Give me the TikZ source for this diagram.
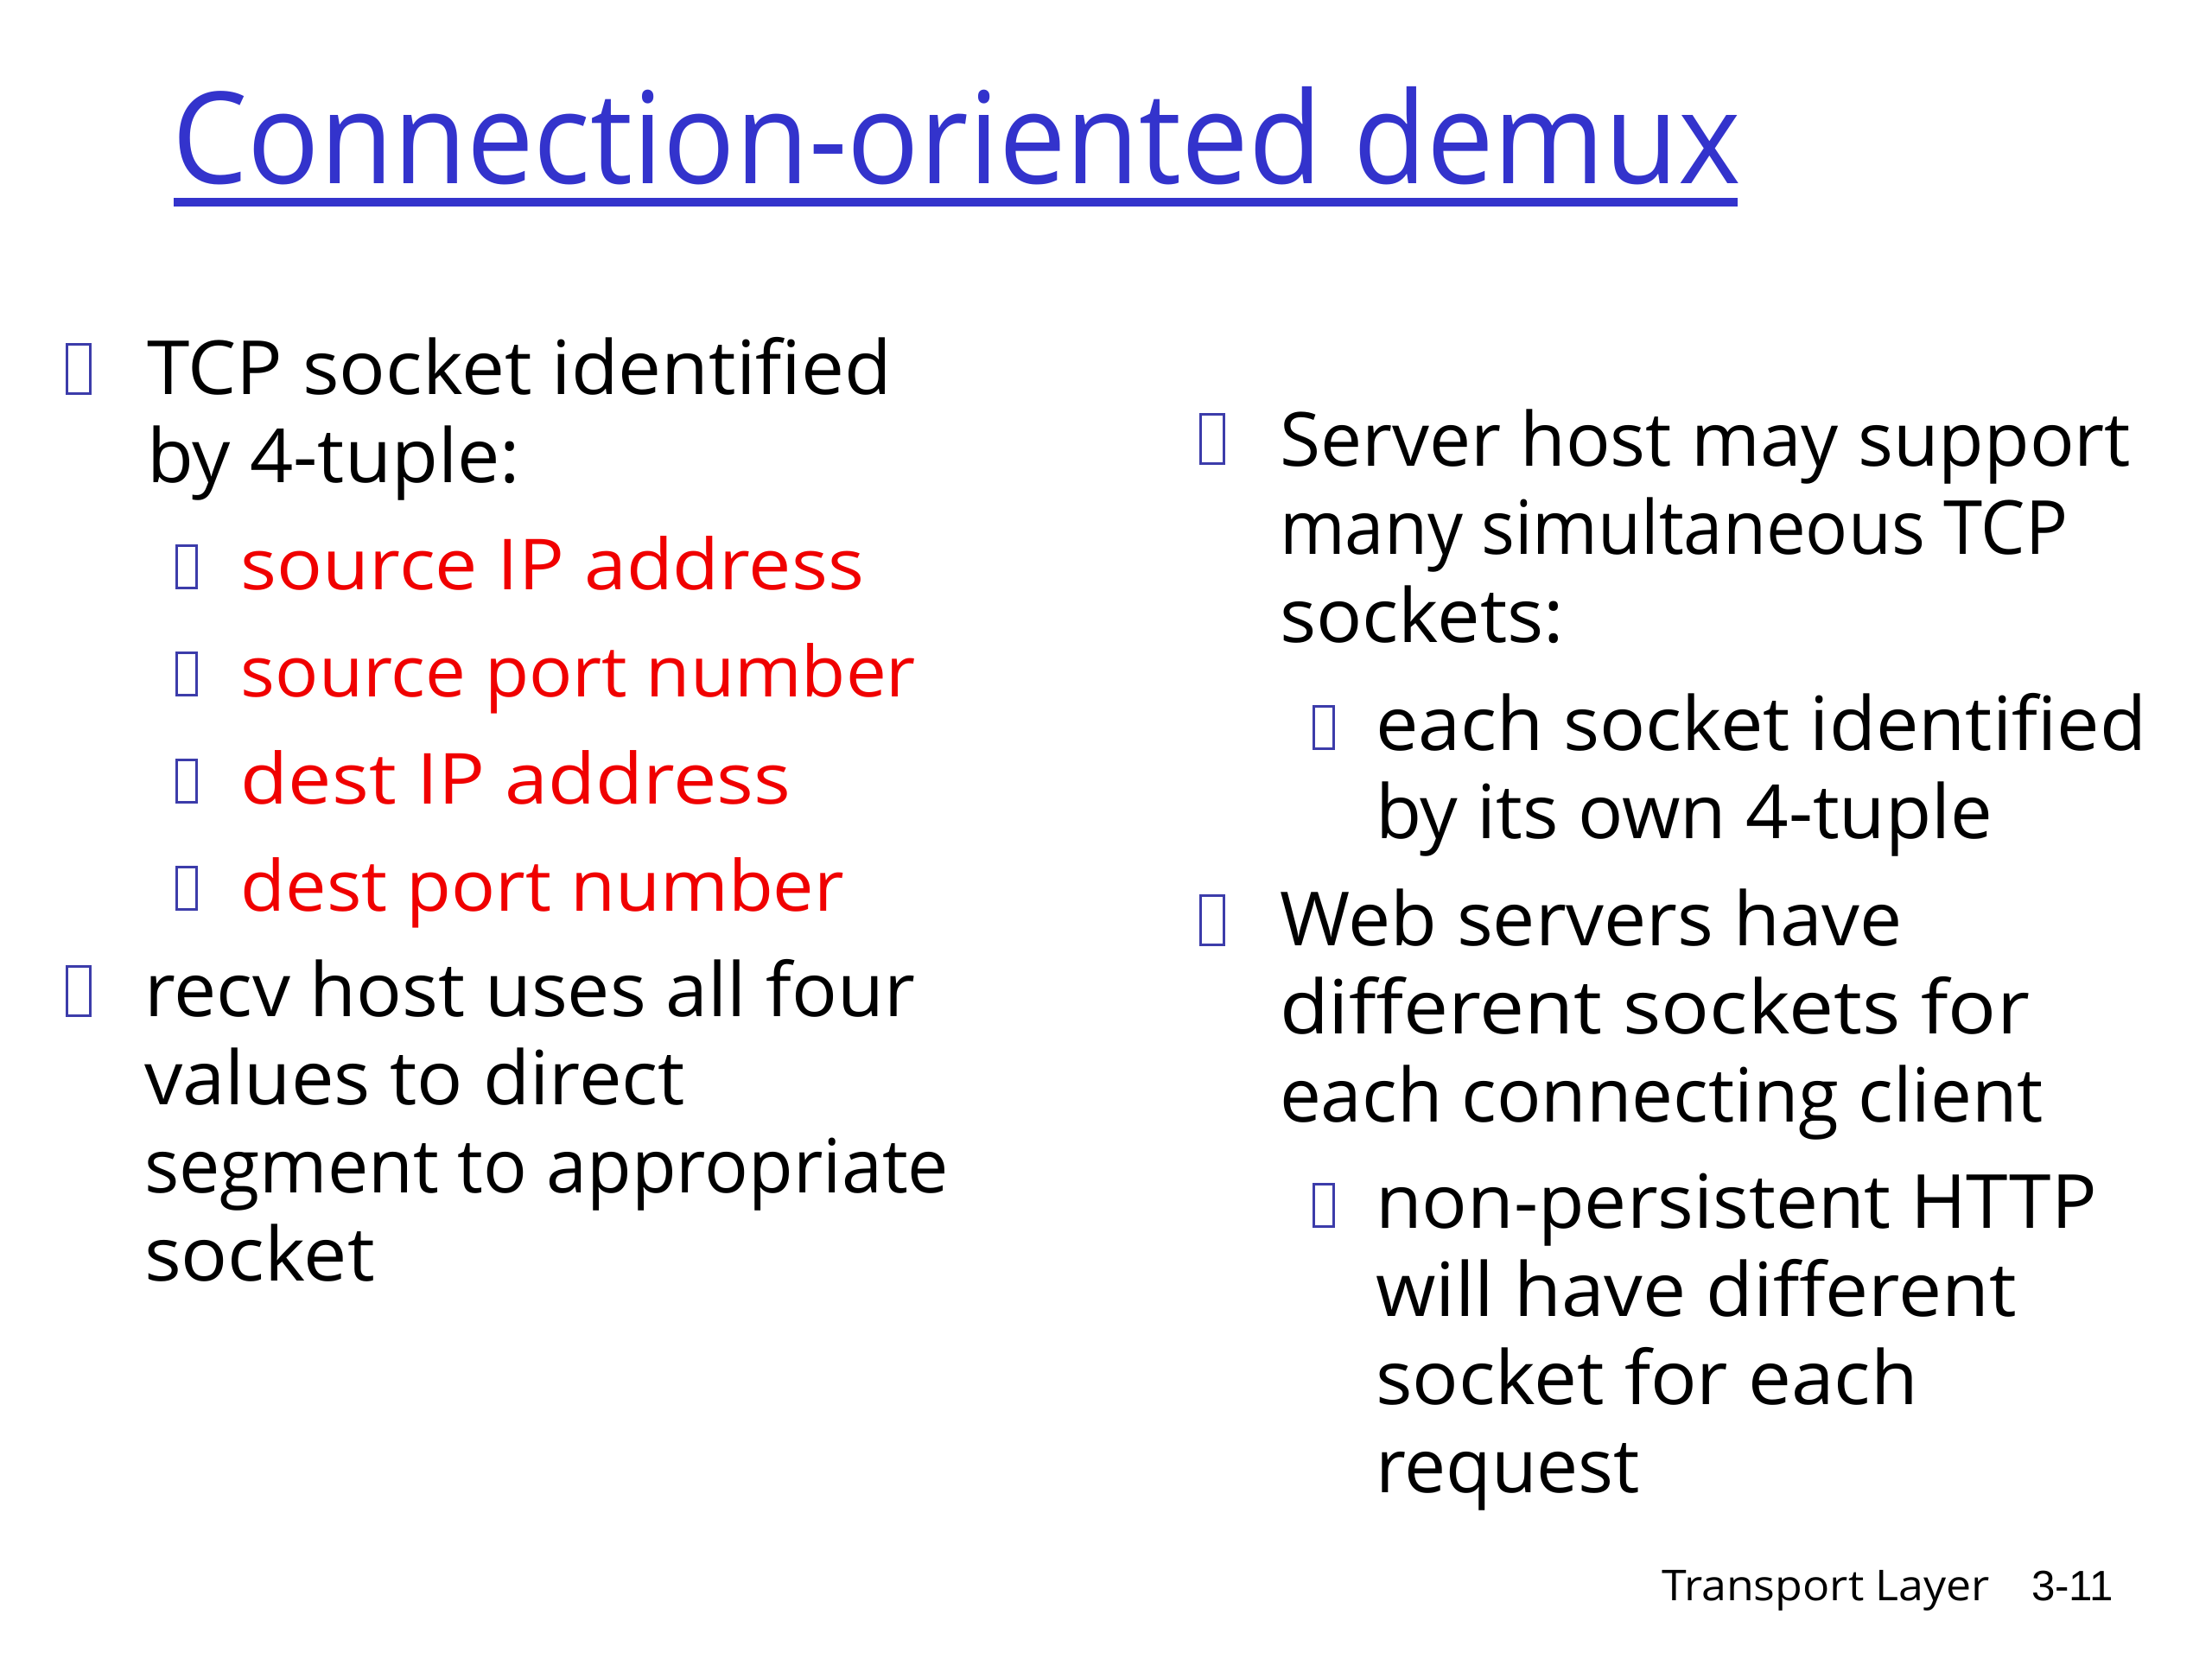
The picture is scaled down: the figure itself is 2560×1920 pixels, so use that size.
\documentclass[tikz,border=0pt]{standalone}
\usepackage{fontspec}
\usepackage{graphicx}
\setmainfont{Open Sans}
\newfontfamily\arialfont{Liberation Sans}
\definecolor{titleblue}{HTML}{3333CC}
\definecolor{boxblue}{HTML}{3C3CAA}
\definecolor{itemred}{HTML}{F00000}
\newlength\fwunit
\setlength\fwunit{0.1mm}
% fit a line of text to a given width (in px of the 2560 px image), keeping its height
\newcommand\fw[2]{\resizebox{#1\fwunit}{\height}{#2}}
\begin{document}
\begin{tikzpicture}[x=0.1mm,y=-0.1mm,
  txt/.style={anchor=base west,inner sep=0pt,outer sep=0pt},
  main/.style={txt,font=\fontsize{24.6}{26}\selectfont},
  sub/.style={txt,font=\fontsize{23.2}{25}\selectfont},
  red/.style={text=itemred},
  mbox/.style={draw=boxblue,line width=0.85pt,anchor=south west,inner sep=0pt,minimum width=2.7mm,minimum height=5.7mm},
  sbox/.style={draw=boxblue,line width=0.85pt,anchor=south west,inner sep=0pt,minimum width=2.3mm,minimum height=4.9mm}]
\useasboundingbox[fill=white] (0,0) rectangle (2560,1920);
% title
\node[txt,text=titleblue,font=\fontsize{42}{44}\selectfont] (title) at (199,212) {\fw{1816}{Connection-oriented demux}};
\coordinate (ulA) at (201,234);
\coordinate (ulB) at (2011,234);
\draw[titleblue,line width=2.7pt] (ulA) -- (ulB);
% left column
\node[mbox] (b1) at (76,457) {};
\node[main] (l1) at (170,456) {\fw{862}{TCP socket identified}};
\node[main] (l2) at (170,558) {\fw{432}{by 4-tuple:}};
\node[sbox] (s1b) at (203,682) {};
\node[sub,red] (s1) at (279,682) {\fw{721}{source IP address}};
\node[sbox] (s2b) at (203,806) {};
\node[sub,red] (s2) at (279,806) {\fw{781}{source port number}};
\node[sbox] (s3b) at (203,930) {};
\node[sub,red] (s3) at (279,930) {\fw{636}{dest IP address}};
\node[sbox] (s4b) at (203,1054) {};
\node[sub,red] (s4) at (279,1054) {\fw{698}{dest port number}};
\node[mbox] (b2) at (76,1177) {};
\node[main] (l3) at (167,1176) {\fw{892}{recv host uses all four}};
\node[main] (l4) at (167,1278) {\fw{626}{values to direct}};
\node[main] (l5) at (167,1380) {\fw{931}{segment to appropriate}};
\node[main] (l6) at (167,1482) {\fw{267}{socket}};
% right column
\node[mbox] (b3) at (1388,538) {};
\node[main] (r1) at (1481,539) {\fw{985}{Server host may support}};
\node[main] (r2) at (1481,641) {\fw{912}{many simultaneous TCP}};
\node[main] (r3) at (1481,743) {\fw{329}{sockets:}};
\node[sbox] (rs1b) at (1519,868) {};
\node[main] (rs1) at (1592,868) {\fw{892}{each socket identified}};
\node[main] (rs2) at (1592,970) {\fw{714}{by its own 4-tuple}};
\node[mbox] (b4) at (1388,1095) {};
\node[main] (r4) at (1481,1094) {\fw{721}{Web servers have}};
\node[main] (r5) at (1481,1196) {\fw{868}{different sockets for}};
\node[main] (r6) at (1481,1298) {\fw{884}{each connecting client}};
\node[sbox] (rs3b) at (1519,1421) {};
\node[main] (rs3) at (1592,1421) {\fw{835}{non-persistent HTTP}};
\node[main] (rs4) at (1592,1523) {\fw{742}{will have different}};
\node[main] (rs5) at (1592,1625) {\fw{628}{socket for each}};
\node[main] (rs6) at (1592,1727) {\fw{306}{request}};
% footer
\node[txt,font=\fontsize{14}{16}\selectfont] (foot) at (1923,1852) {\fw{380}{Transport Layer}};
\node[txt,font=\arialfont\fontsize{14}{16}\selectfont] (page) at (2351,1852) {3-11};
\end{tikzpicture}
\end{document}
